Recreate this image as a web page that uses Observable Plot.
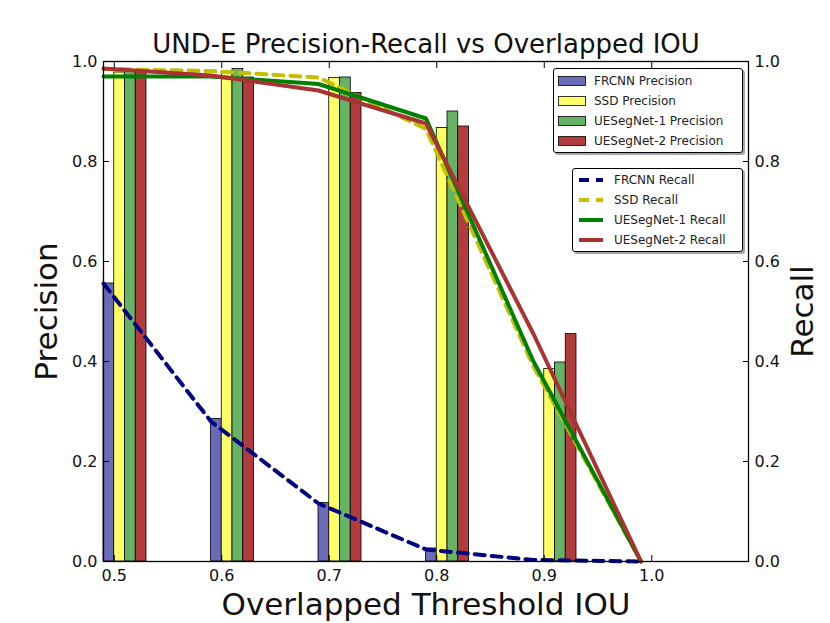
<!DOCTYPE html>
<html><head><meta charset="utf-8">
<script src="https://cdn.jsdelivr.net/npm/d3@7"></script>
<script src="https://cdn.jsdelivr.net/npm/@observablehq/plot@0.6"></script>
<style>
body{margin:0;background:#fff;}
#wrap{position:relative;width:830px;height:623px;font-family:"DejaVu Sans",sans-serif;}
.legend{position:absolute;background:#fff;border:1px solid #000;border-radius:3px;box-shadow:2px 2px 0 rgba(0,0,0,0.35);font-size:12px;color:#222;box-sizing:border-box;}
.row{position:absolute;left:0;height:20px;display:flex;align-items:center;white-space:nowrap;}
.row svg{display:block;}
</style></head><body><div id="wrap"></div>
<script>
// ---- data ----
const thresholds = [0.5, 0.6, 0.7, 0.8, 0.9, 1.0];
const models = ["FRCNN", "SSD", "UESegNet-1", "UESegNet-2"];

const frcnnPrecision = [0.556, 0.285, 0.117, 0.026, 0.0, 0.0];
const ssdPrecision   = [0.978, 0.980, 0.967, 0.867, 0.385, 0.0];
const ues1Precision  = [0.980, 0.985, 0.968, 0.900, 0.398, 0.0];
const ues2Precision  = [0.980, 0.968, 0.937, 0.870, 0.455, 0.0];

const frcnnRecall = [0.556, 0.280, 0.116, 0.024, 0.003, 0.0];
const ssdRecall   = [0.985, 0.981, 0.968, 0.865, 0.390, 0.0];
const ues1Recall  = [0.970, 0.970, 0.955, 0.886, 0.400, 0.0];
const ues2Recall  = [0.986, 0.972, 0.942, 0.876, 0.455, 0.0];

const xTickValues = [0.5, 0.6, 0.7, 0.8, 0.9, 1.0];
const yTickValues = [0, 0.2, 0.4, 0.6, 0.8, 1.0];

const titleText = "UND-E Precision-Recall vs Overlapped IOU";
const xLabel = "Overlapped Threshold IOU";
const yLabelLeft = "Precision";
const yLabelRight = "Recall";

// ---- styling ----
const precisionSeries = [frcnnPrecision, ssdPrecision, ues1Precision, ues2Precision];
const recallSeries = [frcnnRecall, ssdRecall, ues1Recall, ues2Recall];
const barColors = ["#6a6ab8", "#ffff66", "#66b366", "#b23c3c"];
const lineColors = ["#000080", "#c4c000", "#008000", "#a93232"];
const lineDash = ["10,7", "10,7", null, null];
const barWidth = 0.01;

const marks = [];
models.forEach((m, i) => {
  const data = thresholds.map((t, j) => ({t, v: precisionSeries[i][j]}));
  marks.push(Plot.rect(data, {
    x1: d => d.t + (i - 1) * barWidth,
    x2: d => d.t + i * barWidth,
    y1: 0, y2: "v",
    fill: barColors[i], stroke: "#000", strokeWidth: 0.8
  }));
});
models.forEach((m, i) => {
  const data = thresholds.map((t, j) => ({t, v: recallSeries[i][j]}));
  const opts = {x: d => d.t - barWidth, y: "v", stroke: lineColors[i], strokeWidth: 4};
  if (lineDash[i]) opts.strokeDasharray = lineDash[i];
  marks.push(Plot.line(data, opts));
});
marks.push(Plot.frame({stroke: "#000", strokeWidth: 1.3}));
marks.push(Plot.axisX(xTickValues, {anchor: "bottom", tickSize: -6, tickPadding: 14, tickFormat: d3.format(".1f"), label: null, fill: "#111"}));
marks.push(Plot.axisX(xTickValues, {anchor: "top", tickSize: -6, tickFormat: () => "", label: null}));
marks.push(Plot.axisY(yTickValues, {anchor: "left", tickSize: -6, tickPadding: 12, tickFormat: d3.format(".1f"), label: null, fill: "#111"}));
marks.push(Plot.axisY(yTickValues, {anchor: "right", tickSize: -6, tickPadding: 12, tickFormat: d3.format(".1f"), label: null, fill: "#111"}));
marks.push(Plot.text([titleText], {frameAnchor: "top", dy: -17, text: d => d, fontSize: 26, lineAnchor: "middle", fill: "#111"}));
marks.push(Plot.text([xLabel], {frameAnchor: "bottom", dy: 44, text: d => d, fontSize: 31, lineAnchor: "middle", fill: "#111"}));
marks.push(Plot.text([yLabelLeft], {frameAnchor: "left", dx: -56, rotate: -90, text: d => d, fontSize: 31, textAnchor: "middle", lineAnchor: "middle", fill: "#111"}));
marks.push(Plot.text([yLabelRight], {frameAnchor: "right", dx: 55, rotate: -90, text: d => d, fontSize: 31, textAnchor: "middle", lineAnchor: "middle", fill: "#111"}));

const chart = Plot.plot({
  width: 830, height: 623,
  marginLeft: 103, marginRight: 82, marginTop: 61, marginBottom: 62,
  x: {domain: [0.49, 1.09]},
  y: {domain: [0, 1]},
  style: {fontFamily: "DejaVu Sans, sans-serif", fontSize: "16px", background: "#fff"},
  marks
});
const wrap = document.getElementById("wrap");
wrap.appendChild(chart);

// ---- legends (HTML overlay) ----
function makeLegend(left, top, w, h, rows) {
  const box = document.createElement("div");
  box.className = "legend";
  Object.assign(box.style, {left: left + "px", top: top + "px", width: w + "px", height: h + "px"});
  rows.forEach((r, k) => {
    const row = document.createElement("div");
    row.className = "row";
    row.style.top = (r.top + k * r.step) + "px";
    row.style.left = r.left + "px";
    row.innerHTML = r.swatch + `<span style="margin-left:${r.gap}px">${r.label}</span>`;
    box.appendChild(row);
  });
  wrap.appendChild(box);
}
makeLegend(553, 68, 190, 85, models.map((m, i) => ({
  top: 2, step: 20, left: 4, gap: 8, label: m + " Precision",
  swatch: `<svg width="28" height="12"><rect x="0.5" y="1.5" width="27" height="9" fill="${barColors[i]}" stroke="#000" stroke-width="0.8"/></svg>`
})));
makeLegend(572, 168, 171, 84, models.map((m, i) => ({
  top: 1, step: 20, left: 6, gap: 11, label: m + " Recall",
  swatch: `<svg width="24" height="12"><line x1="0" y1="6" x2="24" y2="6" stroke="${lineColors[i]}" stroke-width="4" ${lineDash[i] ? `stroke-dasharray="${lineDash[i]}"` : ""}/></svg>`
})));
</script>
</body></html>
